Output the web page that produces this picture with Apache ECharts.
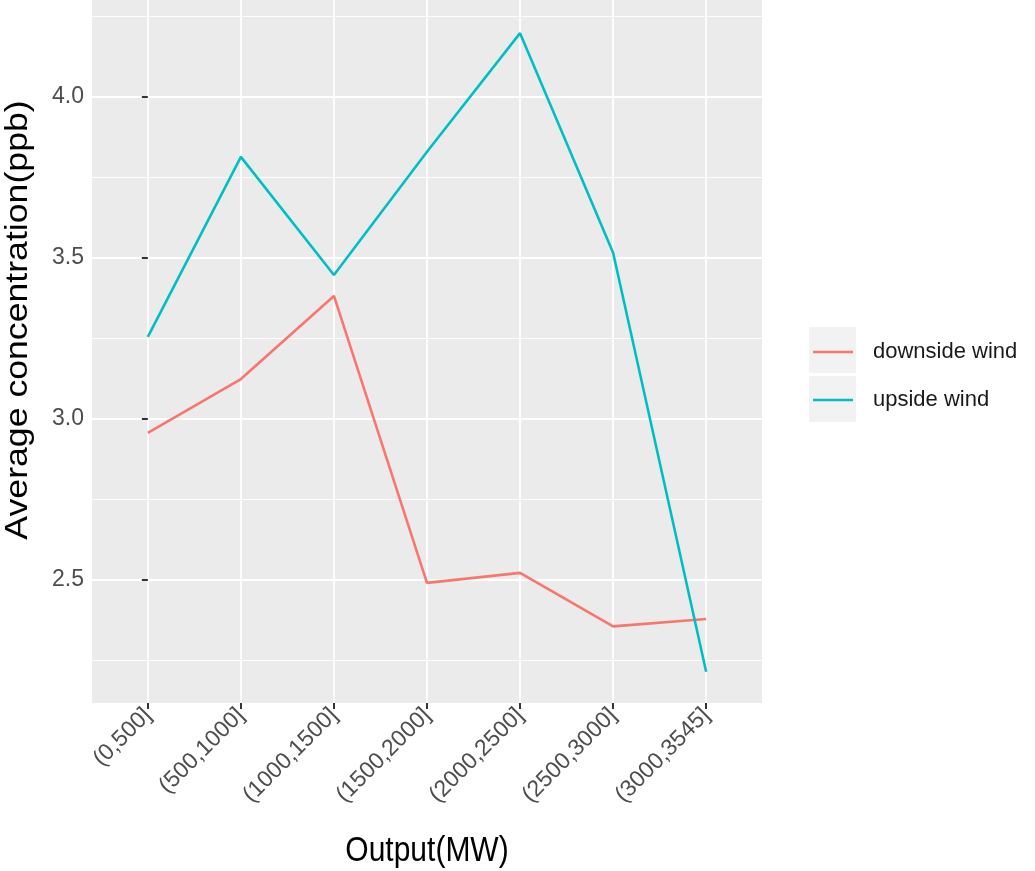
<!DOCTYPE html>
<html>
<head>
<meta charset="utf-8">
<script src="https://cdn.jsdelivr.net/npm/echarts@6/dist/echarts.min.js"></script>
<style>html,body{margin:0;padding:0;background:#fff}#c{width:1035px;height:871px}</style>
</head>
<body>
<div id="c"></div>
<script>
const categories = ['(0,500]','(500,1000]','(1000,1500]','(1500,2000]','(2000,2500]','(2500,3000]','(3000,3545]'];
const downside = [2.957, 3.124, 3.382, 2.491, 2.522, 2.356, 2.379];
const upside = [3.255, 3.814, 3.447, 3.830, 4.198, 3.516, 2.215];
const yMajorTicks = [2.5, 3.0, 3.5, 4.0];
const yMinorTicks = [2.25, 2.75, 3.25, 3.75, 4.25];
const seriesNames = ['downside wind', 'upside wind'];

const xIdx = categories.map((_, i) => i);
const chart = echarts.init(document.getElementById('c'), null, {renderer: 'canvas'});
const font = 'Liberation Sans, Arial, Helvetica, sans-serif';
chart.setOption({
  animation: false,
  backgroundColor: '#ffffff',
  grid: {left: 92, right: 273, top: 0, bottom: 168, show: true, backgroundColor: '#EBEBEB', borderWidth: 0},
  xAxis: {
    type: 'value', min: -0.6, max: 6.6,
    axisLine: {show: false},
    axisTick: {show: true, customValues: xIdx, length: 6, lineStyle: {color: '#333333', width: 2}},
    axisLabel: {customValues: xIdx, rotate: 45, margin: 9, fontSize: 23, color: '#4D4D4D', fontFamily: font,
      formatter: v => categories[Math.round(v)]},
    splitLine: {show: true, lineStyle: {color: '#ffffff', width: 1.8}}
  },
  yAxis: [{
    type: 'value', min: 2.118, max: 4.301,
    axisLine: {show: false},
    axisTick: {show: true, customValues: yMajorTicks, length: 6, lineStyle: {color: '#333333', width: 2}},
    axisLabel: {customValues: yMajorTicks, margin: 8, fontSize: 23, color: '#4D4D4D', fontFamily: font,
      formatter: v => v.toFixed(1)},
    splitLine: {show: true, lineStyle: {color: '#ffffff', width: 1.8}}
  }, {
    type: 'value', min: 2.118, max: 4.301, position: 'left',
    axisLine: {show: false},
    axisTick: {show: false, customValues: yMinorTicks},
    axisLabel: {show: false, customValues: yMinorTicks},
    splitLine: {show: true, lineStyle: {color: '#ffffff', width: 0.9}}
  }],
  legend: {
    orient: 'vertical', left: 813, top: 329, padding: 0,
    itemWidth: 40, itemHeight: 2.6, itemGap: 2, icon: 'rect',
    textStyle: {fontSize: 22, color: '#1a1a1a', fontFamily: font, padding: [0, 0, 0, 15], lineHeight: 46},
    data: seriesNames
  },
  graphic: [
    {type: 'rect', left: 809, top: 327, shape: {width: 47, height: 46}, style: {fill: '#F2F2F2'}, z: -1},
    {type: 'rect', left: 809, top: 376, shape: {width: 47, height: 46}, style: {fill: '#F2F2F2'}, z: -1},
    {type: 'text', x: 18, y: 320, rotation: Math.PI / 2, scaleX: 1.15,
      style: {text: 'Average concentration(ppb)', fontSize: 31, fontFamily: font, fill: '#000', align: 'center', verticalAlign: 'middle'}},
    {type: 'text', x: 427, y: 851, scaleY: 1.15,
      style: {text: 'Output(MW)', fontSize: 30, fontFamily: font, fill: '#000', align: 'center', verticalAlign: 'middle'}}
  ],
  series: [
    {name: seriesNames[0], type: 'line', symbol: 'none', data: downside.map((v, i) => [xIdx[i], v]),
      lineStyle: {color: '#F8766D', width: 2.6}, itemStyle: {color: '#F8766D'}},
    {name: seriesNames[1], type: 'line', symbol: 'none', data: upside.map((v, i) => [xIdx[i], v]),
      lineStyle: {color: '#00BFC4', width: 2.6}, itemStyle: {color: '#00BFC4'}}
  ]
});
</script>
</body>
</html>
